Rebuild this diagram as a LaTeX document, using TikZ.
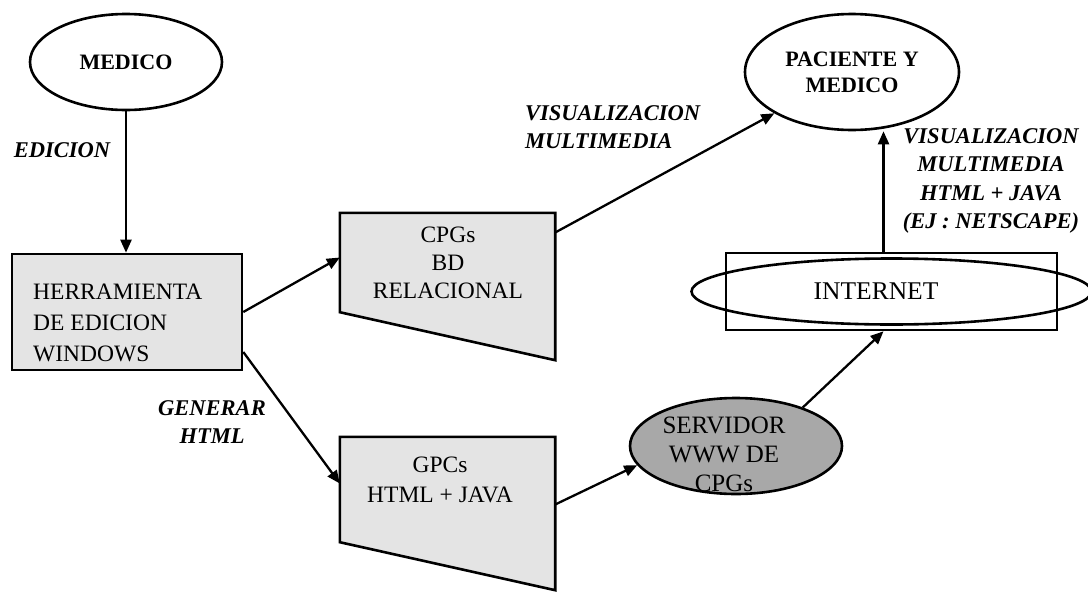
\documentclass[tikz,border=0pt]{standalone}
\usepackage{fontspec}
\setmainfont{Liberation Serif}
\usetikzlibrary{arrows.meta,shapes.geometric,calc,backgrounds}

\definecolor{boxgray}{HTML}{E4E4E4}
\definecolor{srvgray}{HTML}{A8A8A8}

\tikzset{
  outline/.style={draw=black, line width=2.6pt},
  actor/.style={outline, ellipse, inner sep=0pt, font=\fontsize{22}{26}\selectfont\bfseries, align=center},
  plainbox/.style={inner sep=0pt, font=\fontsize{23.5}{29}\selectfont, align=center},
  flow/.style={line width=2.3pt, -{Triangle[length=13pt,width=11pt]}},
  tag/.style={font=\fontsize{22.5}{28.5}\selectfont\bfseries\itshape, inner sep=0pt},
}

\begin{document}
\begin{tikzpicture}[x=1pt, y=-1pt]
  \useasboundingbox (0,0) rectangle (1088,592);

  % actors
  \node[actor, minimum width=192pt, minimum height=96pt] (med) at (126,62) {MEDICO};
  \node[actor, minimum width=214pt, minimum height=116pt] (pac) at (852,72) {PACIENTE Y\\MEDICO};

  % editing tool
  \node[outline, fill=boxgray, minimum width=230pt, minimum height=116pt,
        inner sep=0pt] (herr) at (127,312) {};
  \node[plainbox, align=left, anchor=west, font=\fontsize{23.5}{31}\selectfont]
       (herrtxt) at (33,323) {HERRAMIENTA\\DE EDICION\\WINDOWS};

  % guideline stores (slanted-bottom boxes)
  \node[plainbox, minimum width=215pt, minimum height=99pt] (cpg) at (447.5,262.5) {};
  \node[plainbox, minimum width=215pt, minimum height=105pt] (gpc) at (447.5,489.5) {};
  \begin{scope}[on background layer]
    \fill[white] (0,0) rectangle (1088,592);
    \filldraw[outline, fill=boxgray, line join=miter]
      (cpg.north west) -- (cpg.north east) -- ($(cpg.south east)+(0,48)$)
      -- (cpg.south west) -- cycle;
    \filldraw[outline, fill=boxgray, line join=miter]
      (gpc.north west) -- (gpc.north east) -- ($(gpc.south east)+(0,48)$)
      -- (gpc.south west) -- cycle;
  \end{scope}
  \node[plainbox, font=\fontsize{23.5}{28}\selectfont] (cpgtxt) at (448,263) {CPGs\\BD\\RELACIONAL};
  \node[plainbox, font=\fontsize{23.5}{30}\selectfont] (gpctxt) at (440,480) {GPCs\\HTML + JAVA};

  % web server
  \node[outline, ellipse, fill=srvgray, minimum width=212pt, minimum height=96pt,
        inner sep=0pt] (srv) at (736,446) {};
  \node[plainbox, font=\fontsize{25}{29}\selectfont] (srvtxt) at (724,454) {SERVIDOR\\WWW DE\\CPGs};

  % internet
  \node[outline, fill=white, minimum width=331pt, minimum height=77pt, inner sep=0pt] (int) at (891.5,291.5) {};
  \draw[line width=2.6pt] (int.center) ellipse [x radius=200, y radius=33];
  \node[plainbox, font=\fontsize{25.5}{28}\selectfont] (inttxt) at (876,291) {INTERNET};

  % connectors
  \draw[flow] (med.south) -- (med.south |- herr.north);
  \draw[flow] (herr.east) -- ($(cpg.west)+(0,-5)$);
  \draw[flow] ($(herr.east)+(0,40)$) -- ($(gpc.west)+(0,-6)$);
  \draw[flow] ($(cpg.east)+(0,-30)$) -- (pac.208);
  \draw[flow] ($(gpc.east)+(0,15)$) -- (srv.191);
  \draw[flow] (srv.30) -- ($(int.south)+(-8,0)$);
  \coordinate (up) at ($(int.north)+(-8,0)$);
  \draw[flow] (up) -- (up |- pac.south);

  % labels
  \node[tag] (lbled) at (62,150) {EDICION};
  \node[tag, align=center] (lblgen) at (212,422) {GENERAR\\HTML};
  \node[tag, align=left, anchor=west] (lblvis) at (525,127) {VISUALIZACION\\MULTIMEDIA};
  \node[tag, align=center] (lblweb) at (991,181) {VISUALIZACION\\MULTIMEDIA\\HTML + JAVA\\(EJ : NETSCAPE)};
\end{tikzpicture}
\end{document}
